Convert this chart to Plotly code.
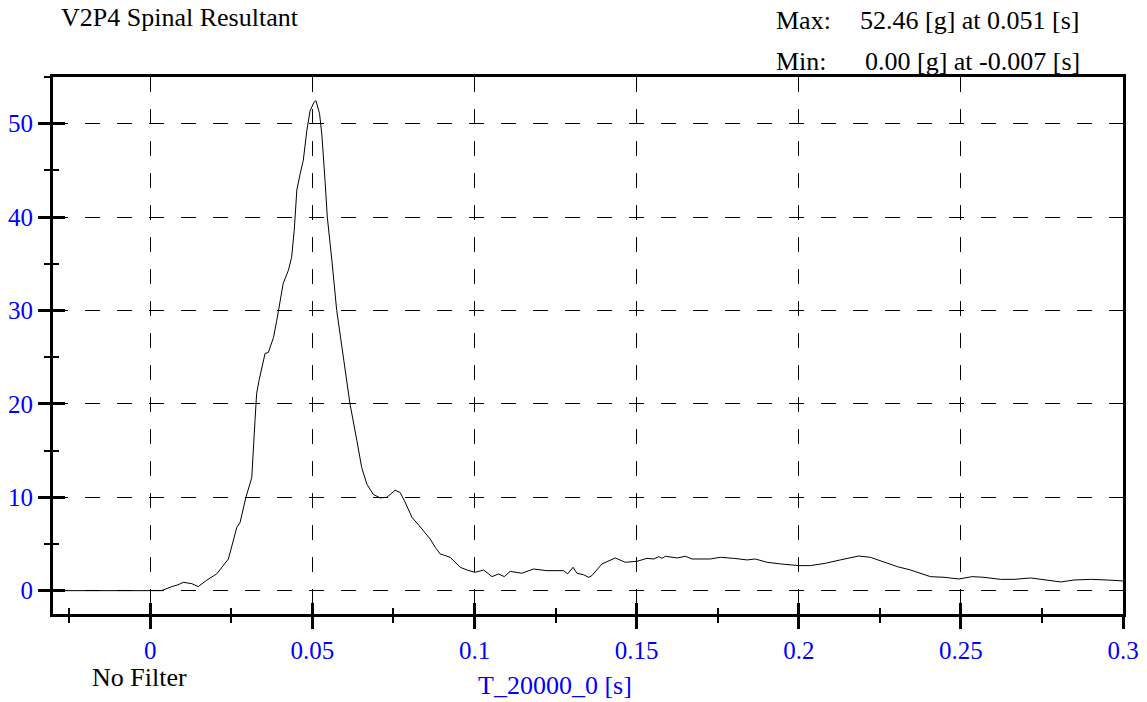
import plotly.graph_objects as go

# Time [s]
t = [-0.030, -0.010, 0.0, 0.0035, 0.0066, 0.0085, 0.0102, 0.0128, 0.0148, 0.0174, 0.0205,
     0.0241, 0.0267, 0.0277, 0.0295, 0.0313, 0.0323, 0.0328, 0.0336, 0.0354, 0.0364,
     0.0380, 0.0390, 0.0410, 0.0426, 0.0436, 0.0444, 0.0452, 0.0462, 0.0472, 0.0483,
     0.0493, 0.0505, 0.0511, 0.0522, 0.0529, 0.0539, 0.0546, 0.0560, 0.0575, 0.0591,
     0.0604, 0.0616, 0.0637, 0.0652, 0.0668, 0.0688, 0.0709, 0.0730, 0.0755, 0.0771,
     0.0786, 0.0807, 0.0838, 0.0863, 0.0879, 0.0894, 0.0904, 0.0925, 0.0956, 0.0977,
     0.1002, 0.1028, 0.1054, 0.1074, 0.1092, 0.1110, 0.1146, 0.1182, 0.1223, 0.1275,
     0.1287, 0.1304, 0.1316, 0.1336, 0.1352, 0.1362, 0.1393, 0.1434, 0.1465, 0.1501,
     0.1532, 0.1553, 0.1568, 0.1578, 0.1589, 0.1625, 0.1650, 0.1671, 0.1727, 0.1758,
     0.1799, 0.1841, 0.1866, 0.1902, 0.1944, 0.2000, 0.2036, 0.2082, 0.2128, 0.2185,
     0.2221, 0.2262, 0.2304, 0.2345, 0.2406, 0.2448, 0.2494, 0.2535, 0.2571, 0.2622,
     0.2664, 0.2715, 0.2756, 0.2808, 0.2849, 0.2900, 0.2952, 0.3000]

# Spinal resultant acceleration [g]
g = [0.0, 0.0, 0.0, 0.0, 0.43, 0.62, 0.89, 0.75, 0.43, 1.12, 1.8,
     3.39, 6.79, 7.3, 10.0, 12.1, 18.2, 21.1, 22.6, 25.4, 25.5,
     27.1, 28.9, 32.9, 34.3, 35.7, 38.6, 42.9, 44.6, 46.1, 49.3,
     51.4, 52.3, 52.46, 51.1, 48.9, 43.9, 40.0, 35.4, 30.0, 26.1,
     22.9, 20.0, 16.1, 13.2, 11.4, 10.3, 9.93, 10.0, 10.75, 10.5,
     9.46, 7.86, 6.6, 5.54, 4.64, 3.93, 3.82, 3.57, 2.5, 2.21,
     1.96, 2.21, 1.5, 1.79, 1.5, 2.07, 1.86, 2.32, 2.14, 2.14,
     1.79, 2.5, 1.86, 1.71, 1.43, 1.61, 2.86, 3.5, 3.04, 3.14,
     3.46, 3.39, 3.64, 3.46, 3.68, 3.5, 3.68, 3.39, 3.39, 3.57,
     3.46, 3.29, 3.39, 3.04, 2.86, 2.68, 2.68, 2.93, 3.29, 3.71,
     3.57, 3.04, 2.57, 2.21, 1.5, 1.43, 1.25, 1.5, 1.43, 1.21,
     1.21, 1.36, 1.14, 0.93, 1.14, 1.21, 1.14, 1.04]

x_range = [-0.03, 0.3]
y_range = [-2.5, 55]
x_ticks = [0, 0.05, 0.1, 0.15, 0.2, 0.25, 0.3]
x_tick_text = ["0", "0.05", "0.1", "0.15", "0.2", "0.25", "0.3"]
y_ticks = [0, 10, 20, 30, 40, 50]

FONT = "Liberation Serif, Times New Roman, serif"
BLUE = "#0000FF"
FS = 26
TFS = 25

fig = go.Figure()
fig.add_trace(go.Scatter(x=t, y=g, mode="lines", line=dict(color="black", width=1),
                         showlegend=False, hoverinfo="skip"))
# dummy trace to activate the overlay axes used for inward-crossing ticks
fig.add_trace(go.Scatter(x=[t[0]], y=[g[0]], xaxis="x2", yaxis="y2", mode="lines",
                         line=dict(width=0), showlegend=False, hoverinfo="skip"))

grid = dict(showgrid=True, gridcolor="black", gridwidth=1, griddash="15px,17px")

fig.update_layout(
    width=1147, height=702,
    margin=dict(l=53, r=24, t=77, b=88),
    paper_bgcolor="white", plot_bgcolor="white",
    font=dict(family=FONT, size=FS, color="black"),
    xaxis=dict(range=x_range, tickvals=x_ticks, ticktext=x_tick_text, automargin=False,
               ticks="outside", ticklen=12, tickwidth=3, tickcolor="black",
               minor=dict(ticks="outside", ticklen=6, tickwidth=2, tickcolor="black",
                          dtick=0.025, tick0=0, showgrid=False),
               showline=True, linecolor="black", linewidth=3, mirror=True,
               zeroline=False, tickfont=dict(color=BLUE, size=TFS, family=FONT),
               **grid),
    yaxis=dict(range=y_range, tickvals=y_ticks, automargin=False,
               ticks="outside", ticklen=12, tickwidth=3, tickcolor="black",
               minor=dict(ticks="outside", ticklen=6, tickwidth=2, tickcolor="black",
                          dtick=5, tick0=0, showgrid=False),
               showline=True, linecolor="black", linewidth=3, mirror=True,
               zeroline=False, tickfont=dict(color=BLUE, size=TFS, family=FONT),
               **grid),
    xaxis2=dict(range=x_range, overlaying="x", anchor="y", side="bottom", automargin=False,
                tickvals=x_ticks, ticks="inside", ticklen=11, tickwidth=3,
                tickcolor="black", showticklabels=False, showgrid=False,
                zeroline=False, showline=False,
                minor=dict(ticks="inside", ticklen=6, tickwidth=2, tickcolor="black",
                           dtick=0.025, tick0=0, showgrid=False)),
    yaxis2=dict(range=y_range, overlaying="y", anchor="x", side="left", automargin=False,
                tickvals=y_ticks, ticks="inside", ticklen=12, tickwidth=3,
                tickcolor="black", showticklabels=False, showgrid=False,
                zeroline=False, showline=False,
                minor=dict(ticks="inside", ticklen=6, tickwidth=2, tickcolor="black",
                           dtick=5, tick0=0, showgrid=False)),
)

def ann(text, x, y, xanchor, color="black"):
    fig.add_annotation(text=text, x=x, y=y, xref="paper", yref="paper",
                       xanchor=xanchor, yanchor="middle", showarrow=False,
                       font=dict(family=FONT, size=FS, color=color))

ann("V2P4 Spinal Resultant", 0.0056, 1.110, "left")
ann("Max:", 0.6738, 1.106, "left")
ann("52.46 [g] at 0.051 [s]", 0.9617, 1.106, "right")
ann("Min:", 0.6738, 1.028, "left")
ann("0.00 [g] at -0.007 [s]", 0.9617, 1.028, "right")
ann("No Filter", 0.0346, -0.119, "left")
ann("T_20000_0 [s]", 0.469, -0.134, "center", BLUE)

fig.write_html("out.html", config={"displayModeBar": False, "staticPlot": True},
               post_script="document.body.style.margin='0';")
